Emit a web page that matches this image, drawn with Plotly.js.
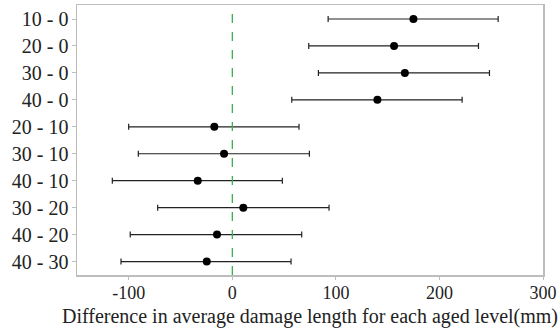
<!DOCTYPE html>
<html>
<head>
<meta charset="utf-8">
<script src="https://cdn.plot.ly/plotly-3.0.1.min.js"></script>
<style>html,body{margin:0;padding:0;background:#fff;}#chart{width:560px;height:336px;}</style>
</head>
<body>
<div id="chart"></div>
<script>
const comparisons = ["10 - 0","20 - 0","30 - 0","40 - 0","20 - 10","30 - 10","40 - 10","30 - 20","40 - 20","40 - 30"];
const diffs = [174.9, 156.2, 166.6, 140.1, -17.4, -8.0, -33.4, 10.6, -14.8, -24.7];
const lowers = [92.5, 73.8, 83.1, 57.4, -100.1, -90.8, -115.9, -72.1, -98.6, -107.5];
const uppers = [256.7, 237.7, 248.3, 221.9, 64.4, 74.4, 48.3, 93.4, 67.0, 56.7];
const xTicks = [-100, 0, 100, 200, 300];

const errPlus = uppers.map((u, i) => u - diffs[i]);
const errMinus = lowers.map((l, i) => diffs[i] - l);

const FAM = '"Liberation Serif", "Times New Roman", serif';

const trace = {
  type: 'scatter',
  mode: 'markers',
  x: diffs,
  y: comparisons,
  marker: {color: '#000', size: 8},
  error_x: {
    type: 'data', symmetric: false,
    array: errPlus, arrayminus: errMinus,
    color: '#222', thickness: 1.2, width: 3
  },
  hoverinfo: 'x+y'
};

const layout = {
  width: 560, height: 336,
  margin: {l: 77, r: 17, t: 5, b: 61},
  paper_bgcolor: '#fff', plot_bgcolor: '#fff',
  font: {family: FAM, size: 18, color: '#222'},
  showlegend: false,
  xaxis: {
    range: [-150, 300],
    tickvals: xTicks,
    ticktext: xTicks.map(String),
    showgrid: false, zeroline: false,
    showline: true, mirror: true, linecolor: '#bdbdbd', linewidth: 1.5,
    ticks: 'outside', ticklen: 3, tickcolor: '#bdbdbd',
    ticklabelstandoff: -2,
    tickfont: {family: FAM, size: 18, color: '#222'},
    title: {text: 'Difference in average damage length for each aged level(mm)', font: {family: FAM, size: 20, color: '#222'}, standoff: 7}
  },
  yaxis: {
    type: 'category',
    categoryorder: 'array', categoryarray: comparisons,
    range: [9.5, -0.52],
    showgrid: false, zeroline: false,
    showline: true, mirror: true, linecolor: '#bdbdbd', linewidth: 1.5,
    ticks: 'outside', ticklen: 4, tickcolor: '#bdbdbd',
    ticklabelstandoff: -1,
    tickfont: {family: FAM, size: 20, color: '#222'}
  },
  shapes: [{
    type: 'line', xref: 'x', yref: 'paper',
    x0: 0, x1: 0, y0: 0, y1: 1,
    line: {color: '#3cb050', width: 1.3, dash: 'dash'}
  }]
};

Plotly.newPlot('chart', [trace], layout, {displayModeBar: false, staticPlot: true});
</script>
</body>
</html>
